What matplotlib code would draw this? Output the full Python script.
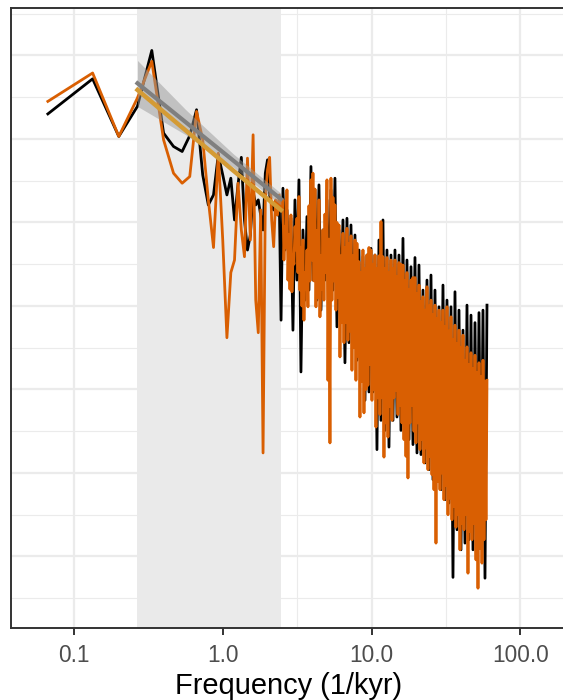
import numpy as np
import matplotlib
matplotlib.use("Agg")
import matplotlib.pyplot as plt
from matplotlib.ticker import FixedLocator, NullFormatter

plt.rcParams['font.family'] = ['Liberation Sans', 'DejaVu Sans']

# spectral resolution (1/kyr)
df = 0.0664

# low frequency bins, one value per bin (log10 power)
black_low = [6.30, 6.72, 6.03, 6.39, 7.06, 6.07, 5.91, 5.85, 6.04, 6.35,
             5.57, 5.21, 5.33, 5.81, 5.57, 5.33, 5.53, 5.03, 5.45, 5.78,
             5.03, 4.67, 4.85, 5.37, 5.21, 5.27, 5.09, 4.91, 5.59, 5.75,
             5.33, 5.21, 5.15, 5.23, 5.09, 5.27, 3.83]
orange_low = [6.45, 6.79, 6.03, 6.49, 6.93, 5.99, 5.59, 5.47, 5.55, 6.33,
              5.99, 5.27, 4.70, 5.83, 4.79, 3.62, 4.40, 4.55, 5.47, 4.91,
              4.59, 5.77, 4.79, 6.05, 4.07, 3.68, 5.15, 2.24, 5.27, 5.63,
              5.78, 5.03, 4.71, 5.27, 5.09, 5.33, 5.15]

# high frequency part (2.53 - 59.6 1/kyr), read as a dense band
dense_range = (2.53, 59.6)
black_dense = [5.41, 4.67, 5.15, 4.43, 5.05, 3.71, 5.27, 4.31, 5.51, 3.21,
               4.91, 4.07, 5.07, 4.19, 5.67, 4.31, 5.39, 4.07, 5.45, 3.95,
               4.91, 4.31, 5.27, 4.07, 5.39, 4.19, 5.53, 3.75, 4.91, 4.07,
               5.03, 3.32, 5.05, 3.56, 4.97, 3.71, 4.85, 3.35, 4.67, 3.11,
               4.59, 2.87, 4.61, 2.97, 4.69, 2.97, 4.61, 2.28, 4.79, 2.63,
               5.03, 2.51, 4.67, 2.31, 4.61, 2.63, 4.67, 2.67, 4.61, 2.51,
               4.81, 2.40, 4.55, 2.40, 4.47, 2.34, 4.58, 2.24, 4.49, 2.22,
               4.19, 2.12, 4.31, 2.04, 4.37, 1.92, 4.19, 2.07, 3.99, 1.80,
               4.25, 1.68, 4.07, 1.64, 3.99, 0.75, 4.17, 1.32, 3.95, 1.08,
               3.71, 1.16, 4.01, 1.20, 3.89, 1.08, 3.80, 1.26, 3.92, 1.35,
               3.95, 0.74, 4.01]
# orange band: local maxima and minima, alternating along frequency
orange_top = [5.27, 4.95, 5.39, 4.85, 5.09, 4.60, 4.95, 5.05, 5.31, 4.70,
              4.79, 4.40, 4.67, 5.20, 5.51, 5.59, 5.40, 4.90, 5.27, 4.60,
              4.91, 5.10, 5.51, 4.80, 5.53, 5.30, 5.21, 5.00, 4.97, 4.60,
              4.87, 4.70, 4.93, 4.75, 4.84, 4.60, 4.79, 4.75, 4.53, 4.40,
              4.67, 4.45, 4.61, 4.70, 4.67, 4.50, 4.61, 4.45, 4.60, 5.01,
              4.59, 4.45, 4.58, 4.40, 4.55, 4.45, 4.55, 4.35, 4.52, 4.50,
              4.49, 4.30, 4.40, 4.20, 4.31, 4.34, 4.34, 4.15, 4.25, 4.05,
              4.11, 3.95, 4.23, 4.00, 4.07, 3.90, 4.01, 3.85, 3.95, 3.80,
              3.95, 3.75, 3.99, 3.70, 3.87, 3.60, 3.77, 3.55, 3.71, 3.50,
              3.65, 3.35, 3.51, 3.30, 3.44, 3.25, 3.41, 3.20, 3.32, 3.15,
              3.35, 3.10, 3.11]
orange_bottom = [4.55, 4.70, 4.31, 4.20, 4.17, 4.50, 4.67, 4.40, 4.19, 4.00,
                 3.83, 4.20, 3.99, 4.30, 4.55, 4.30, 3.99, 4.10, 3.87, 4.20,
                 4.07, 4.40, 3.11, 2.36, 4.07, 4.30, 3.95, 4.10, 3.39, 3.80,
                 3.56, 3.80, 3.59, 3.70, 3.23, 3.50, 3.11, 3.40, 2.67, 3.10,
                 2.72, 3.00, 3.05, 3.30, 2.87, 3.00, 2.55, 2.90, 2.70, 2.90,
                 2.19, 2.60, 2.43, 2.80, 2.63, 2.90, 2.99, 2.70, 2.81, 2.60,
                 2.40, 2.20, 1.94, 2.60, 2.81, 2.50, 2.36, 2.60, 2.28, 2.40,
                 2.12, 2.30, 2.04, 2.20, 1.98, 1.80, 1.16, 1.90, 1.80, 2.00,
                 1.68, 1.85, 1.50, 1.70, 1.44, 1.60, 1.35, 1.50, 1.08, 1.40,
                 1.32, 1.50, 0.80, 1.30, 1.20, 1.40, 0.96, 0.62, 1.10, 0.92,
                 1.20, 1.44]

# fit window and fitted power laws
fit_window = (0.266, 2.45)
fit_freq = [0.266, 0.562, 1.175, 2.45]
gray_fit = [6.667, 6.200, 5.740, 5.281]
gray_lo = [6.39, 6.05, 5.66, 5.21]
gray_hi = [6.94, 6.35, 5.82, 5.35]
gold_fit = [6.587, 6.101, 5.620, 5.150]

freq_low = df * np.arange(1, len(black_low) + 1)

orange_dense = np.empty(len(orange_top) + len(orange_bottom))
orange_dense[0::2] = orange_top
orange_dense[1::2] = orange_bottom

freq_black = np.concatenate([freq_low, np.geomspace(*dense_range, len(black_dense))])
freq_orange = np.concatenate([freq_low, np.geomspace(*dense_range, len(orange_dense))])
black = np.concatenate([black_low, black_dense])
orange = np.concatenate([orange_low, orange_dense])

fig = plt.figure(figsize=(5.63, 7.0), dpi=100)
ax = fig.add_axes([11 / 563, 1 - 627.7 / 700, 555 / 563, 620 / 700])

ax.axvspan(fit_window[0], fit_window[1], color='#EAEAEA', lw=0, zorder=1)
ax.plot(freq_black, black, color='black', lw=2.0, zorder=2)
ax.plot(freq_orange, orange, color='#D95F02', lw=2.0, zorder=3)
ax.fill_between(fit_freq, gray_lo, gray_hi, color='#999999', alpha=0.5, lw=0, zorder=4)
ax.plot(fit_freq, gray_fit, color='#7F7F7F', lw=3.0, zorder=5)
ax.plot(fit_freq, gold_fit, color='#D49B35', lw=3.2, zorder=6)

ax.set_xscale('log')
ax.set_xlim(10 ** -1.4257, 10 ** 2.3066)
ax.set_ylim(0.147, 7.572)

ax.xaxis.set_major_locator(FixedLocator([0.1, 1, 10, 100]))
ax.xaxis.set_minor_locator(FixedLocator([10 ** -1.5, 10 ** -0.5, 10 ** 0.5, 10 ** 1.5]))
ax.xaxis.set_minor_formatter(NullFormatter())
ax.set_xticklabels(['0.1', '1.0', '10.0', '100.0'])
ax.yaxis.set_major_locator(FixedLocator(np.arange(1, 8)))
ax.yaxis.set_minor_locator(FixedLocator(np.arange(0.5, 8, 1.0)))
ax.set_yticklabels([])

ax.grid(which='major', color='#EBEBEB', lw=1.6, zorder=0)
ax.grid(which='minor', color='#EBEBEB', lw=0.8, zorder=0)
ax.set_axisbelow(True)

ax.tick_params(axis='x', which='major', length=5, width=1.4, color='#333333',
               labelsize=16.3, labelcolor='#4D4D4D', pad=7)
ax.tick_params(axis='x', which='minor', length=0)
ax.tick_params(axis='y', which='both', length=0)
for s in ax.spines.values():
    s.set_color('#333333')
    s.set_linewidth(1.4)

ax.set_xlabel('Frequency (1/kyr)', fontsize=20.9, color='black', labelpad=3)

fig.savefig('out.png', dpi=100)
